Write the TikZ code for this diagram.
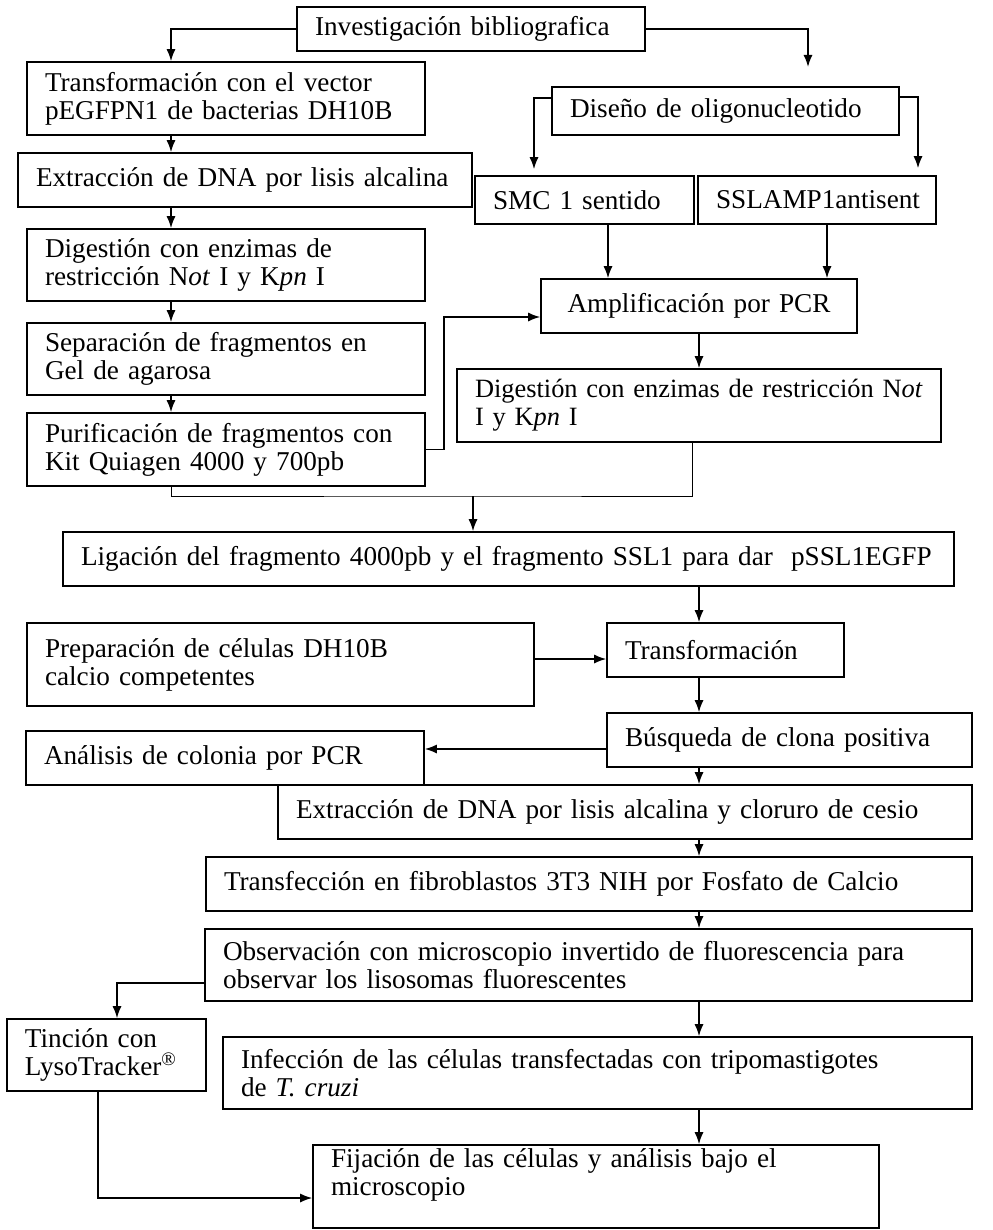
\documentclass[tikz,border=0pt]{standalone}
\usepackage{fontspec}
\setmainfont{Liberation Serif}
\usetikzlibrary{arrows.meta}

\begin{document}
\begin{tikzpicture}[x=0.5pt,y=-0.5pt,
  font=\fontsize{13.6pt}{14pt}\selectfont,
  box/.style={draw=black,line width=0.8pt,inner xsep=9pt,inner ysep=0pt,align=left},
  arr/.style={line width=0.75pt,-{Latex[length=6pt,width=4.5pt]}}]
\useasboundingbox (0,0) rectangle (992,1230);
\coordinate (lc) at (171,0);
\coordinate (rc) at (699,0);
\node[box,text width=156pt,minimum height=22pt] at (471,29) (inv) {Investigación bibliografica};
\node[box,text width=181pt,minimum height=36.5pt] at (226,98.5) (tra) {Transformación con el vector\\ pEGFPN1 de bacterias DH10B};
\node[box,text width=209pt,minimum height=27pt] at (245,180) (ext) {Extracción de DNA por lisis alcalina};
\node[box,text width=181pt,minimum height=36pt] at (226,265) (dig) {Digestión con enzimas de\\ restricción N\textit{ot} I y K\textit{pn} I};
\node[box,text width=181pt,minimum height=36pt] at (226,359) (sep) {Separación de fragmentos en\\ Gel de agarosa};
\node[box,text width=181pt,minimum height=36.5pt] at (226,449.5) (pur) {Purificación de fragmentos con\\ Kit Quiagen 4000 y 700pb};
\node[box,text width=155.5pt,minimum height=24pt] at (725.5,111) (dis) {Diseño de oligonucleotido};
\node[box,text width=91.5pt,minimum height=24pt] at (584.5,200) (smc) {SMC 1 sentido};
\node[box,text width=101pt,minimum height=24pt] at (817,200) (ssl) {SSLAMP1antisent};
\node[box,text width=140pt,minimum height=27pt,align=center] at (699,306) (amp) {Amplificación por PCR};
\node[box,text width=224pt,minimum height=36.5pt,font=\fontsize{13.2pt}{14pt}\selectfont] at (699,405.5) (dig2) {\mbox{Digestión con enzimas de restricción N\textit{ot}}\\ I y K\textit{pn} I};
\node[box,text width=427.5pt,minimum height=27pt] at (508.5,559) (lig) {\mbox{Ligación del fragmento 4000pb y el fragmento SSL1 para dar~ pSSL1EGFP}};
\node[box,text width=235.5pt,minimum height=41.5pt] at (280.5,664.5) (pre) {Preparación de células DH10B\\ calcio competentes};
\node[box,text width=100.5pt,minimum height=27pt] at (725.5,650) (trf) {Transformación};
\node[box,text width=164.5pt,minimum height=27pt] at (789.5,740) (bus) {Búsqueda de clona positiva};
\node[box,text width=181pt,minimum height=27pt] at (225,758) (ana) {Análisis de colonia por PCR};
\node[box,text width=329pt,minimum height=27pt] at (625,812) (ext2) {Extracción de DNA por lisis alcalina y cloruro de cesio};
\node[box,text width=365pt,minimum height=27pt] at (589,884) (tfc) {Transfección en fibroblastos 3T3 NIH por Fosfato de Calcio};
\node[box,text width=365.5pt,minimum height=36pt] at (588.5,965) (obs) {Observación con microscopio invertido de fluorescencia para\\ observar los lisosomas fluorescentes};
\node[box,text width=81.5pt,minimum height=36pt] at (106.5,1055) (tin) {Tinción con\\ LysoTracker\textsuperscript{\textregistered}};
\node[box,text width=356.5pt,minimum height=36pt] at (597.5,1073) (inf) {Infección de las células transfectadas con tripomastigotes\\ de \textit{T. cruzi}};
\node[box,text width=265pt,minimum height=41.5pt] at (596,1186.5) (fij) {Fijación de las células y análisis bajo el\\ microscopio\\ \mbox{}};
\coordinate (dz) at (808,67);
\coordinate (dl) at (534,98);
\coordinate (dr) at (918,97);
\coordinate (sa) at (608,0);
\coordinate (sb) at (827,0);
\coordinate (dd) at (692,0);
\coordinate (mg) at (473,496);
\coordinate (py) at (0,659);
\coordinate (by) at (0,749);
\coordinate (ot) at (117,983);
\coordinate (tf) at (98,1198);
\draw[arr] (inv.west) -| (tra.north -| lc);
\draw[arr] (inv.east) -| (dz);
\draw[arr] (tra.south -| lc) -- (ext.north -| lc);
\draw[arr] (ext.south -| lc) -- (dig.north -| lc);
\draw[arr] (dig.south -| lc) -- (sep.north -| lc);
\draw[arr] (sep.south -| lc) -- (pur.north -| lc);
\draw[arr,shorten >=3pt] (dis.west |- dl) -| (smc.north -| dl);
\draw[arr,shorten >=3.5pt] (dis.east |- dr) -| (ssl.north -| dr);
\draw[arr] (smc.south -| sa) -- (amp.north -| sa);
\draw[arr] (ssl.south -| sb) -- (amp.north -| sb);
\draw[arr] (pur.east) -- ++(18,0) |- ([yshift=-5.5pt]amp.west);
\draw[arr] (amp.south) -- (dig2.north);
\draw (pur.south -| lc) |- (mg) -| (dig2.south -| dd);
\draw[arr] (mg) -- (lig.north -| mg);
\draw[arr] (lig.south -| rc) -- (trf.north -| rc);
\draw[arr] (pre.east |- py) -- (trf.west |- py);
\draw[arr] (trf.south -| rc) -- (bus.north -| rc);
\draw[arr] (bus.west |- by) -- (ana.east |- by);
\draw[arr] (bus.south -| rc) -- (ext2.north -| rc);
\draw[arr] (ext2.south -| rc) -- (tfc.north -| rc);
\draw[arr] (tfc.south -| rc) -- (obs.north -| rc);
\draw[arr] (obs.west |- ot) -| (tin.north -| ot);
\draw[arr] (obs.south -| rc) -- (inf.north -| rc);
\draw[arr] (inf.south -| rc) -- (fij.north -| rc);
\draw[arr] (tin.south -| tf) |- (fij.west |- tf);
\end{tikzpicture}
\end{document}
